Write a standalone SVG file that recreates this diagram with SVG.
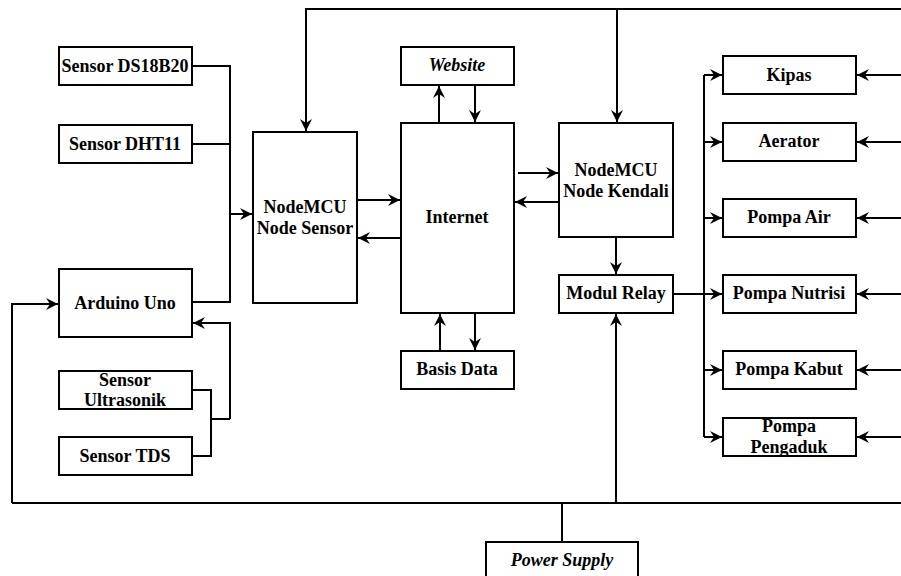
<svg xmlns="http://www.w3.org/2000/svg" width="901" height="576" viewBox="0 0 901 576">
<style>
.box{fill:#fff;stroke:#000;stroke-width:2}
.t{font-family:'Liberation Serif',serif;font-weight:700;font-size:18px;text-anchor:middle;fill:#000}
.i{font-style:italic}
.c{fill:none;stroke:#000;stroke-width:2}
.a{marker-end:url(#ah)}
</style>
<defs>
<marker id="ah" markerUnits="userSpaceOnUse" markerWidth="14" markerHeight="12" refX="12" refY="6" orient="auto">
<path d="M0,0 L12,6 L0,12 L4,6 z" fill="#000"/>
</marker>
</defs>
<rect width="901" height="576" fill="#fff"/>
<g id="connectors">
<polyline class="c" points="192,66 230,66 230,302 192,302"/>
<line class="c" x1="192" y1="144" x2="230" y2="144"/>
<line class="c a" x1="230" y1="214" x2="252" y2="214"/>
<polyline class="c a" points="230,419 230,323 193,323"/>
<polyline class="c" points="192,390 211,390 211,456 192,456"/>
<line class="c" x1="211" y1="419" x2="230" y2="419"/>
<polyline class="c a" points="12,503 12,304 58,304"/>
<line class="c" x1="12" y1="503" x2="901" y2="503"/>
<line class="c" x1="562" y1="503" x2="562" y2="542"/>
<polyline class="c a" points="901,9 306,9 306,131"/>
<line class="c a" x1="617" y1="9" x2="617" y2="122"/>
<line class="c a" x1="357" y1="200" x2="400" y2="200"/>
<line class="c a" x1="400" y1="238" x2="358" y2="238"/>
<line class="c a" x1="439" y1="123" x2="439" y2="86"/>
<line class="c a" x1="475" y1="85" x2="475" y2="122"/>
<line class="c a" x1="440" y1="351" x2="440" y2="314"/>
<line class="c a" x1="475" y1="313" x2="475" y2="350"/>
<line class="c a" x1="518" y1="173" x2="558" y2="173"/>
<line class="c a" x1="558" y1="202" x2="515" y2="202"/>
<line class="c a" x1="616" y1="237" x2="616" y2="274"/>
<line class="c a" x1="616" y1="503" x2="616" y2="314"/>
<line class="c" x1="673" y1="294" x2="704" y2="294"/>
<line class="c" x1="704" y1="75" x2="704" y2="437"/>
<line class="c a" x1="704" y1="75" x2="722" y2="75"/>
<line class="c a" x1="704" y1="142" x2="722" y2="142"/>
<line class="c a" x1="704" y1="218" x2="722" y2="218"/>
<line class="c a" x1="704" y1="294" x2="722" y2="294"/>
<line class="c a" x1="704" y1="370" x2="722" y2="370"/>
<line class="c a" x1="704" y1="437" x2="722" y2="437"/>
<line class="c a" x1="901" y1="75" x2="857" y2="75"/>
<line class="c a" x1="901" y1="142" x2="857" y2="142"/>
<line class="c a" x1="901" y1="218" x2="857" y2="218"/>
<line class="c a" x1="901" y1="294" x2="857" y2="294"/>
<line class="c a" x1="901" y1="370" x2="857" y2="370"/>
<line class="c a" x1="901" y1="437" x2="857" y2="437"/>
</g>
<g id="ds18b20"><rect class="box" x="59" y="47" width="133" height="38"/><text class="t" x="125" y="72">Sensor DS18B20</text></g>
<g id="dht11"><rect class="box" x="59" y="125" width="133" height="38"/><text class="t" x="125" y="150">Sensor DHT11</text></g>
<g id="arduino"><rect class="box" x="59" y="269" width="133" height="68"/><text class="t" x="125" y="309">Arduino Uno</text></g>
<g id="ultrasonik"><rect class="box" x="59" y="371" width="133" height="38"/><text class="t" x="125" y="386">Sensor</text><text class="t" x="125" y="406">Ultrasonik</text></g>
<g id="tds"><rect class="box" x="59" y="437" width="133" height="38"/><text class="t" x="125" y="462">Sensor TDS</text></g>
<g id="nodesensor"><rect class="box" x="253" y="132" width="104" height="171"/><text class="t" x="305" y="213">NodeMCU</text><text class="t" x="305" y="234">Node Sensor</text></g>
<g id="website"><rect class="box" x="401" y="47" width="113" height="38"/><text class="t i" x="457" y="71">Website</text></g>
<g id="internet"><rect class="box" x="401" y="123" width="113" height="190"/><text class="t" x="457" y="223">Internet</text></g>
<g id="basisdata"><rect class="box" x="401" y="351" width="113" height="38"/><text class="t" x="457" y="375">Basis Data</text></g>
<g id="nodekendali"><rect class="box" x="559" y="123" width="114" height="114"/><text class="t" x="616" y="176">NodeMCU</text><text class="t" x="616" y="197">Node Kendali</text></g>
<g id="relay"><rect class="box" x="559" y="275" width="114" height="38"/><text class="t" x="616" y="299">Modul Relay</text></g>
<g id="kipas"><rect class="box" x="723" y="56" width="133" height="38"/><text class="t" x="789" y="81">Kipas</text></g>
<g id="aerator"><rect class="box" x="723" y="123" width="133" height="38"/><text class="t" x="789" y="147">Aerator</text></g>
<g id="pompaair"><rect class="box" x="723" y="199" width="133" height="38"/><text class="t" x="789" y="223">Pompa Air</text></g>
<g id="pompanutrisi"><rect class="box" x="723" y="275" width="133" height="38"/><text class="t" x="789" y="299">Pompa Nutrisi</text></g>
<g id="pompakabut"><rect class="box" x="723" y="351" width="133" height="38"/><text class="t" x="789" y="375">Pompa Kabut</text></g>
<g id="pompapengaduk"><rect class="box" x="723" y="418" width="133" height="38"/><text class="t" x="789" y="432">Pompa</text><text class="t" x="789" y="453">Pengaduk</text></g>
<g id="powersupply"><rect class="box" x="486" y="542" width="152" height="40"/><text class="t i" x="562" y="566">Power Supply</text></g>
</svg>
